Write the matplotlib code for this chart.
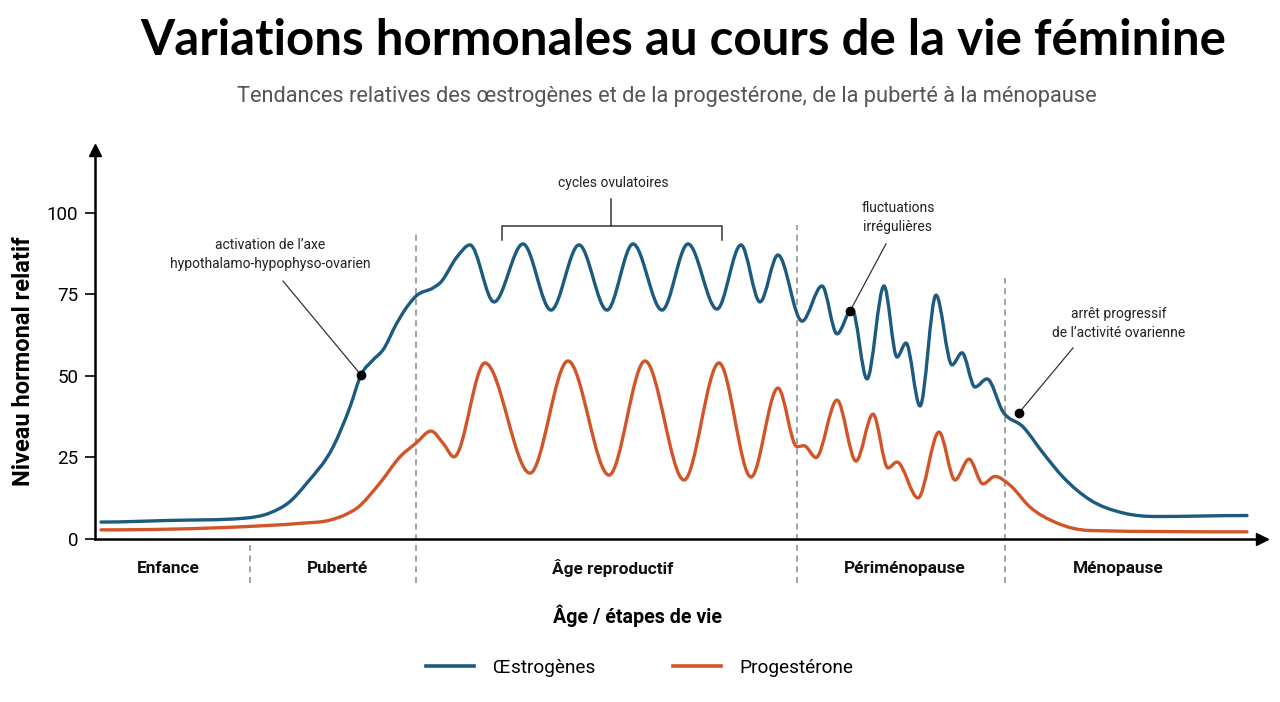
import numpy as np
import matplotlib
matplotlib.use('Agg')
import matplotlib.pyplot as plt
from matplotlib.path import Path
from matplotlib.patches import PathPatch
from matplotlib.lines import Line2D

# Position le long de la vie (unité arbitraire) et niveaux relatifs
estro_x = [6, 75, 150, 175, 195, 212, 238, 255, 266, 278, 288, 302, 312, 321, 338, 345,
           362, 375, 399, 428, 456, 484, 512, 538, 567, 593, 622, 646, 665, 683, 707,
           727, 742, 757, 772, 789, 802, 811, 825, 841, 857, 867, 880, 892, 908, 928,
           948, 968, 995, 1028, 1062, 1152]
estro_y = [5.2, 5.7, 6.4, 8.0, 11.5, 17.2, 28.2, 40.5, 50.3, 54.9, 58.0, 66.3, 71.2, 74.5, 77.0, 78.5,
           86.5, 90.2, 72.7, 90.5, 70.2, 90.2, 70.2, 90.5, 70.2, 90.5, 70.5, 90.2, 72.7, 87.1, 66.8,
           77.6, 62.9, 70.5, 49.1, 77.6, 55.8, 60.1, 40.8, 74.8, 53.4, 57.1, 46.6, 49.1, 39.0, 34.4,
           26.4, 19.0, 12.0, 8.0, 6.9, 7.2]

prog_x = [6, 150, 205, 235, 250, 262, 285, 305, 321, 336, 348, 359, 390, 435, 473,
          514, 550, 589, 624, 656, 683, 702, 709, 721, 742, 761, 778, 793, 802, 823, 844,
          860, 874, 888, 900, 915, 935, 962, 995, 1152]
prog_y = [2.8, 3.8, 4.8, 5.8, 7.4, 9.5, 17.2, 25.2, 29.4, 33.1, 29.4, 25.2, 54.0, 20.2, 54.6,
          19.6, 54.6, 18.1, 54.0, 19.0, 46.3, 28.3, 28.6, 25.0, 42.6, 23.9, 38.3, 21.8, 23.6, 12.6, 32.8,
          18.1, 24.5, 16.9, 19.2, 16.5, 9.8, 4.9, 2.6, 2.2]

stages = ['Enfance', 'Puberté', 'Âge reproductif', 'Périménopause', 'Ménopause']
stage_centers = [73, 242, 518, 810, 1023]
boundaries = [155, 321, 702, 910]

BLUE = '#1c5a80'
ORANGE = '#d2552a'

plt.rcParams['font.family'] = ['Roboto', 'DejaVu Sans']


def smooth_path(x, y):
    # courbe cubique par morceaux (pente nulle aux extrema, pas de dépassement), en segments de Bézier
    x = np.asarray(x, float)
    y = np.asarray(y, float)
    h = np.diff(x)
    d = np.diff(y) / h
    m = np.zeros_like(y)
    for k in range(1, len(x) - 1):
        if d[k - 1] * d[k] <= 0:
            m[k] = 0
        else:
            m[k] = (d[k - 1] * h[k] + d[k] * h[k - 1]) / (h[k - 1] + h[k])
            lim = 3 * min(abs(d[k - 1]), abs(d[k]))
            m[k] = np.sign(m[k]) * min(abs(m[k]), lim)
    verts = [(x[0], y[0])]
    codes = [Path.MOVETO]
    for k in range(len(x) - 1):
        verts += [(x[k] + h[k] / 3, y[k] + m[k] * h[k] / 3),
                  (x[k + 1] - h[k] / 3, y[k + 1] - m[k + 1] * h[k] / 3),
                  (x[k + 1], y[k + 1])]
        codes += [Path.CURVE4] * 3
    return Path(verts, codes)


fig = plt.figure(figsize=(12.8, 7.02), dpi=100)
ax = fig.add_axes([95 / 1280, 163 / 702, 1167 / 1280, 389 / 702])
ax.set_xlim(0, 1167)
ax.set_ylim(0, 119.3)

for xs, ys, c in [(estro_x, estro_y, BLUE), (prog_x, prog_y, ORANGE)]:
    ax.add_patch(PathPatch(smooth_path(xs, ys), facecolor='none', edgecolor=c,
                           lw=2.4, capstyle='round', joinstyle='round'))

# axes avec flèches
for s in ['top', 'right']:
    ax.spines[s].set_visible(False)
for s in ['left', 'bottom']:
    ax.spines[s].set_linewidth(1.8)
ax.plot(0, 1, '^k', ms=8, transform=ax.transAxes, clip_on=False)
ax.plot(1, 0, '>k', ms=8, transform=ax.transAxes, clip_on=False)

ax.set_yticks([0, 25, 50, 75, 100])
ax.tick_params(axis='y', length=7, width=1.2, labelsize=13.5, pad=5)
ax.set_xticks([])

# séparateurs des étapes
tops = [-1.8, 94.8, 96.3, 80]
for bx, top in zip(boundaries, tops):
    ax.plot([bx, bx], [-13.5, top], color='#8a8a8a', lw=1.1, ls=(0, (4, 3)), clip_on=False, zorder=0)

for name, cx in zip(stages, stage_centers):
    ax.text(cx, -9.0, name, ha='center', va='center', fontsize=12.4, fontweight='bold', color='#111')

# annotations
ann = dict(ha='center', va='center', fontsize=10, color='#222', linespacing=1.4)
ax.text(175, 87.3, "activation de l’axe\nhypothalamo-hypophyso-ovarien", **ann)
ax.plot([188, 266], [79.1, 50.3], color='#333', lw=0.9)
ax.plot(266, 50.3, 'o', color='black', ms=6)

ax.text(518, 109.2, 'cycles ovulatoires', **ann)
ax.plot([516, 516], [104.3, 96.0], color='#333', lw=1.1)
ax.plot([407, 407, 627, 627], [91.7, 96.0, 96.0, 91.7], color='#333', lw=1.1)

ax.text(803, 98.6, 'fluctuations\nirrégulières', **ann)
ax.plot([791, 755], [90.5, 69.9], color='#333', lw=0.9)
ax.plot(755, 69.9, 'o', color='black', ms=6)

ax.text(1024, 66.1, "arrêt progressif\nde l’activité ovarienne", **ann)
ax.plot([978, 924], [58.6, 38.7], color='#333', lw=0.9)
ax.plot(924, 38.7, 'o', color='black', ms=6)

# titres et libellés
fig.text(0.534, 0.943, 'Variations hormonales au cours de la vie féminine',
         ha='center', va='center', fontsize=35.5, fontweight='bold', family=['Lato', 'DejaVu Sans'])
fig.text(0.521, 0.863, 'Tendances relatives des œstrogènes et de la progestérone, de la puberté à la ménopause',
         ha='center', va='center', fontsize=15.7, color='#555555')
fig.text(0.018, 0.486, 'Niveau hormonal relatif', rotation=90, ha='center', va='center',
         fontsize=17, fontweight='bold')
fig.text(0.498, 0.1225, 'Âge / étapes de vie', ha='center', va='center', fontsize=14.1, fontweight='bold')

handles = [Line2D([], [], color=BLUE, lw=2.6), Line2D([], [], color=ORANGE, lw=2.6)]
fig.legend(handles, ['Œstrogènes', 'Progestérone'], loc='center', bbox_to_anchor=(0.5, 1 - 668 / 702),
           ncol=2, frameon=False, fontsize=13.7, handlelength=2.5, handletextpad=1.0, columnspacing=4.1)

fig.savefig('out.png', dpi=100)
